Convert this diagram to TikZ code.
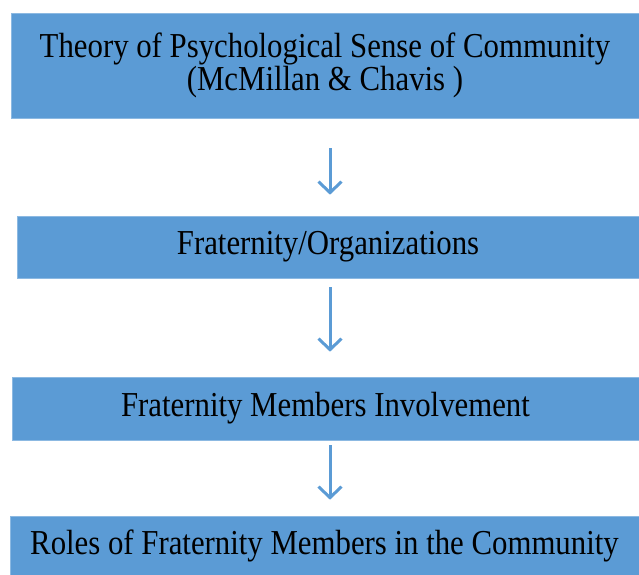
\documentclass[tikz,border=0pt]{standalone}
\usepackage{fontspec}
\setmainfont{Liberation Serif}[FakeStretch=0.88]
\usetikzlibrary{arrows.meta}
\definecolor{boxblue}{RGB}{91,155,213}
\tikzset{
  flowbox/.style={fill=boxblue, draw=boxblue!70!white, line width=0.6pt, align=center, inner sep=0pt,
    font=\fontsize{35}{33}\selectfont},
  flowarrow/.style={draw=boxblue, line width=3pt, -{Straight Barb[length=11pt,width=23pt,line width=3pt]}}
}
\begin{document}
\begin{tikzpicture}[x=1pt,y=1pt,yscale=-1]
\useasboundingbox (0,0) rectangle (639,574);
%Shape: boxes
\node[flowbox, minimum width=628pt, minimum height=105pt] (theory) at (325,65.5)
  {Theory of Psychological Sense of Community\\(McMillan \& Chavis )};
\node[flowbox, minimum width=622pt, minimum height=62pt] (frat) at (328,247)
  {Fraternity/Organizations};
\node[flowbox, minimum width=627pt, minimum height=63pt] (involve) at (325.5,408.5)
  {Fraternity Members Involvement};
\node[flowbox, minimum width=629pt, minimum height=60pt] (roles) at (324.5,546)
  {Roles of Fraternity Members in the Community};
%Arrows
\coordinate (col) at (330,0);
\draw[flowarrow, shorten <=30pt, shorten >=21pt] (theory.south -| col) -- (frat.north -| col);
\draw[flowarrow, shorten <=9pt, shorten >=25pt] (frat.south -| col) -- (involve.north -| col);
\draw[flowarrow, shorten <=5pt, shorten >=16pt] (involve.south -| col) -- (roles.north -| col);
\end{tikzpicture}
\end{document}
